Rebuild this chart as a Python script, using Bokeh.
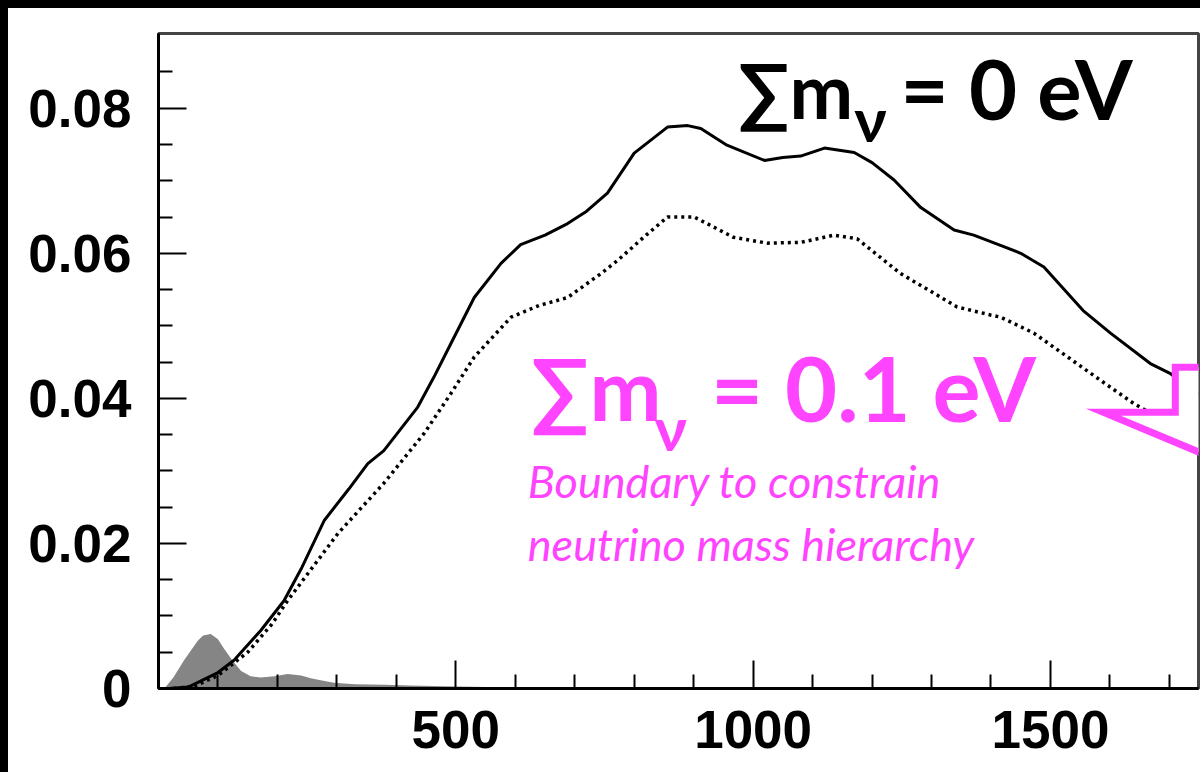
from bokeh.plotting import figure
from bokeh.layouts import column, row
from bokeh.models import Range1d, FixedTicker, CustomJSTickFormatter, Spacer
from bokeh.core.properties import value
from bokeh.embed import file_html
from bokeh.resources import INLINE

# ---- data ----
solid_x = [18, 50, 100, 127, 172, 211, 240, 279, 320, 352, 379, 436, 463, 492, 531, 576, 609,
           650, 688, 720, 755, 800, 856, 890, 912, 956, 1019, 1050, 1080, 1120, 1170, 1200,
           1237, 1282, 1338, 1371, 1416, 1450, 1489, 1555, 1601, 1668, 1702, 1750]
solid_y = [0.0, 0.0002, 0.0022, 0.0039, 0.0080, 0.0121, 0.0165, 0.0232, 0.0275, 0.0310, 0.0328,
           0.0388, 0.0429, 0.0476, 0.0539, 0.0586, 0.0612, 0.0625, 0.0641, 0.0658, 0.0683,
           0.0738, 0.0774, 0.0776, 0.0772, 0.0749, 0.0728, 0.0732, 0.0734, 0.0745, 0.0739,
           0.0725, 0.0701, 0.0663, 0.0632, 0.0625, 0.0611, 0.0600, 0.0581, 0.0521, 0.0490,
           0.0448, 0.0434, 0.0405]

dotted_x = [25, 60, 100, 150, 190, 217, 302, 379, 447, 492, 531, 593, 640, 688, 744, 772, 820,
            856, 901, 967, 1024, 1080, 1136, 1175, 1248, 1304, 1343, 1399, 1416, 1472, 1529,
            1584, 1640, 1700, 1750]
dotted_y = [0.0, 0.0003, 0.0018, 0.0050, 0.0088, 0.0121, 0.0214, 0.0283, 0.0352, 0.0407,
            0.0457, 0.0512, 0.0528, 0.0539, 0.0572, 0.0590, 0.0625, 0.0650, 0.0650, 0.0622,
            0.0614, 0.0615, 0.0625, 0.0620, 0.0572, 0.0545, 0.0526, 0.0515, 0.0512, 0.0490,
            0.0457, 0.0425, 0.0393, 0.0365, 0.0340]

hist_x = [10, 25, 43, 66, 75, 88, 100, 110, 125, 139, 155, 172, 195, 217, 240, 256, 275, 295,
          330, 380, 424, 480, 550, 650, 750]
hist_y = [0.0, 0.0015, 0.0039, 0.0066, 0.0073, 0.0075, 0.0068, 0.0055, 0.0038, 0.0024, 0.0017,
          0.0015, 0.0017, 0.0020, 0.0018, 0.0014, 0.0011, 0.0008, 0.0006, 0.0005, 0.0004,
          0.0003, 0.0002, 0.0001, 0.0]

x_major = [500, 1000, 1500]
x_minor = [100, 200, 300, 400, 600, 700, 800, 900, 1100, 1200, 1300, 1400, 1600, 1700]
y_major = [0, 0.02, 0.04, 0.06, 0.08]
y_minor = [0.005, 0.01, 0.015, 0.025, 0.03, 0.035, 0.045, 0.05, 0.055, 0.065, 0.07, 0.075, 0.085]

# callout outline (magenta) and texts
callout_x = [1770, 1710, 1710, 1589, 1770]
callout_y = [0.04428, 0.04428, 0.03807, 0.03807, 0.03190]

label0_parts = ["∑m", "ν", "= 0 eV"]
label1_parts = ["∑m", "ν", "= 0.1 eV"]
note_lines = ["Boundary to constrain", "neutrino mass hierarchy"]

MAGENTA = "#FF44FF"

p = figure(width=1192, height=764, x_range=Range1d(0, 1749), y_range=Range1d(0, 0.0903),
           output_backend="svg", toolbar_location=None,
           min_border_left=150, min_border_right=2, min_border_top=25, min_border_bottom=84,
           background_fill_color="white", border_fill_color="white")
p.xgrid.grid_line_color = None
p.ygrid.grid_line_color = None
p.outline_line_color = "#444444"
p.outline_line_width = 3

for ax in (p.xaxis[0], p.yaxis[0]):
    ax.axis_line_width = 3
    ax.axis_line_color = "black"
    ax.major_tick_in = 28
    ax.major_tick_out = 0
    ax.minor_tick_in = 14
    ax.minor_tick_out = 0
    ax.major_tick_line_width = 2
    ax.minor_tick_line_width = 2
    ax.major_tick_line_color = "black"
    ax.minor_tick_line_color = "black"
    ax.major_label_text_font = "Liberation Sans"
    ax.major_label_text_font_style = "bold"
    ax.major_label_text_font_size = "53px"
    ax.major_label_text_color = "black"

p.xaxis[0].ticker = FixedTicker(ticks=x_major, minor_ticks=x_minor)
p.yaxis[0].ticker = FixedTicker(ticks=y_major, minor_ticks=y_minor)
p.yaxis[0].formatter = CustomJSTickFormatter(code="return tick == 0 ? '0' : tick.toFixed(2);")
p.xaxis[0].major_label_standoff = 22
p.yaxis[0].major_label_standoff = 27

p.varea(x=hist_x, y1=[0] * len(hist_x), y2=hist_y, fill_color="#858585")
p.line(solid_x, solid_y, line_color="black", line_width=3)
p.line(dotted_x, dotted_y, line_color="black", line_width=3.5, line_dash="3 4")

p.patch(callout_x, callout_y, fill_color="white", line_color=MAGENTA, line_width=7,
        line_join="miter")

# black label
p.text(x=[974], y=[0.0826], text=[label0_parts[0]], text_font=value("Lato"),
       text_font_style="bold", text_font_size="76px", text_color="black",
       text_baseline="alphabetic")
p.text(x=[1170], y=[0.0786], text=[label0_parts[1]], text_font=value("Lato"),
       text_font_style="bold", text_font_size="62px", text_color="black",
       text_baseline="alphabetic")
p.text(x=[1248], y=[0.0828], text=[label0_parts[2]], text_font=value("Lato"),
       text_font_style="bold", text_font_size="83px", text_color="black",
       text_baseline="alphabetic")

# magenta label
p.text(x=[626], y=[0.0415], text=[label1_parts[0]], text_font=value("Lato"),
       text_font_style="bold", text_font_size="86px", text_color=MAGENTA,
       text_baseline="alphabetic")
p.text(x=[834], y=[0.0361], text=[label1_parts[1]], text_font=value("Lato"),
       text_font_style="bold", text_font_size="62px", text_color=MAGENTA,
       text_baseline="alphabetic")
p.text(x=[929], y=[0.0415], text=[label1_parts[2]], text_font=value("Lato"),
       text_font_style="bold", text_font_size="90px", text_color=MAGENTA,
       text_baseline="alphabetic")

p.text(x=[621, 621], y=[0.02854, 0.01999], text=note_lines, text_font=value("Lato"),
       text_font_style="italic", text_font_size="45px", text_color=MAGENTA,
       text_baseline="alphabetic")

top_bar = Spacer(width=1200, height=8, styles={"background-color": "black"})
left_bar = Spacer(width=8, height=764, styles={"background-color": "black"})
layout = column(top_bar, row(left_bar, p, spacing=0), spacing=0)

open("out.html", "w").write(file_html(layout, INLINE))
